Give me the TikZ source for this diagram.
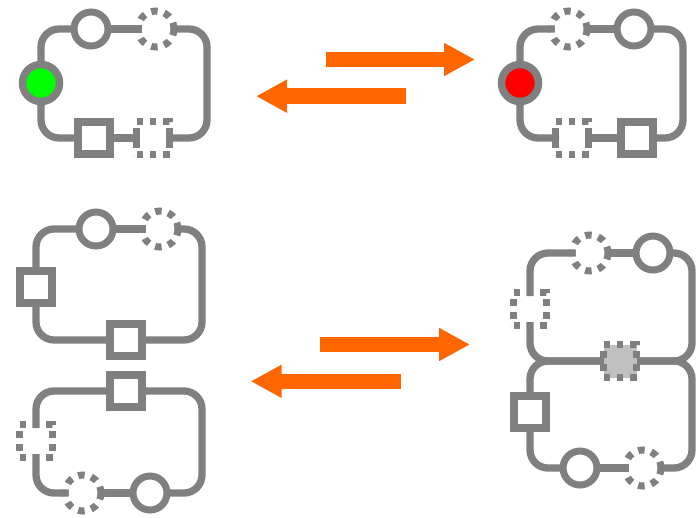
\documentclass[tikz,border=0pt]{standalone}
\usetikzlibrary{arrows.meta,backgrounds}
\definecolor{wiregray}{HTML}{808080}
\definecolor{flow}{HTML}{FF6600}
\definecolor{shade}{HTML}{C0C0C0}
\tikzset{
  wire/.style={draw=wiregray, line width=7.3pt, rounded corners=18pt},
  part/.style={draw=wiregray, inner sep=0pt, outer sep=-3.5pt},
  ring/.style={part, circle, line width=7pt, minimum size=34pt, fill=white},
  dring/.style={part, circle, line width=7pt, minimum size=36pt, dash pattern=on 6.5pt off 6.8pt},
  box/.style={part, rectangle, line width=8pt, minimum size=32pt, fill=white, outer sep=-4pt},
  dbox/.style={part, rectangle, line width=7pt, minimum size=33pt, dash pattern=on 6.6pt off 6.6pt},
  lamp/.style={part, circle, line width=7.5pt, minimum size=37pt, outer sep=-3.75pt},
  flowarrow/.style={color=flow, line width=15.6pt, -{Triangle[length=31pt,width=31pt]}},
}
\begin{document}
\begin{tikzpicture}[x=1pt, y=-1pt]
\useasboundingbox (0,0) rectangle (698,517);

% circuit with green lamp
\node[lamp, fill=green] (g) at (41,83) {};
\node[ring] (c1) at (91,29) {};
\node[dring] (d1) at (156,29) {};
\node[box] (s1) at (94,138) {};
\node[dbox] (d2) at (153,138) {};
\coordinate (tlR) at (207,29);

% circuit with red lamp
\node[lamp, fill=red] (r) at (520,83) {};
\node[dring] (d3) at (569,29) {};
\node[ring] (c2) at (634,29) {};
\node[box] (s2) at (637,138) {};
\node[dbox] (d4) at (572,138) {};
\coordinate (trR) at (683,29);

% two separate loops
\node[box] (s4) at (36,287) {};
\node[ring] (c3) at (96,229) {};
\node[dring] (d5) at (160,229) {};
\node[box] (s3) at (126,340) {};
\coordinate (bluR) at (202,229);

\node[box] (s5) at (126,391) {};
\node[dbox] (d7) at (36,441) {};
\node[dring] (d6) at (83,493) {};
\node[ring] (c4) at (150,493) {};
\coordinate (bllR) at (202,391);

% joined loops sharing one element
\node[dbox] (d9) at (530,309) {};
\node[dring] (d8) at (590,253) {};
\node[ring] (c5) at (653,253) {};
\node[dbox, fill=shade] (gs) at (620,361) {};
\node[box] (s6) at (530,412) {};
\node[ring] (c6) at (580,468) {};
\node[dring] (d10) at (643,468) {};
\coordinate (brT) at (692,253);
\coordinate (brM) at (692,361);

\begin{scope}[on background layer]
  \draw[wire] (g) |- (c1);
  \draw[wire] (c1) -- (d1);
  \draw[wire] (d1) -- (tlR) |- (d2);
  \draw[wire] (d2) -- (s1);
  \draw[wire] (s1) -| (g);

  \draw[wire] (r) |- (d3);
  \draw[wire] (d3) -- (c2);
  \draw[wire] (c2) -- (trR) |- (s2);
  \draw[wire] (s2) -- (d4);
  \draw[wire] (d4) -| (r);

  \draw[wire] (s4) |- (c3);
  \draw[wire] (c3) -- (d5);
  \draw[wire] (d5) -- (bluR) |- (s3);
  \draw[wire] (s3) -| (s4);

  \draw[wire] (s5) -- (bllR) |- (c4);
  \draw[wire] (c4) -- (d6);
  \draw[wire] (d6) -| (d7);
  \draw[wire] (d7) |- (s5);

  \draw[wire] (d9) |- (d8);
  \draw[wire] (d8) -- (c5);
  \draw[wire] (c5) -- (brT) |- (gs);
  \draw[wire] (gs) -| (d9);
  \draw[wire] (gs) -- (brM) |- (d10);
  \draw[wire] (d10) -- (c6);
  \draw[wire] (c6) -| (s6);
  \draw[wire] (s6) |- (gs);
\end{scope}

% reaction arrows
\coordinate (a1s) at (326,59.5);   \coordinate (a1e) at (475,59.5);
\coordinate (a2s) at (405.7,96.2); \coordinate (a2e) at (256,96.2);
\coordinate (a3s) at (320,344.5);  \coordinate (a3e) at (470,344.5);
\coordinate (a4s) at (400.7,381.3);\coordinate (a4e) at (250.7,381.3);
\draw[flowarrow] (a1s) -- (a1e);
\draw[flowarrow] (a2s) -- (a2e);
\draw[flowarrow] (a3s) -- (a3e);
\draw[flowarrow] (a4s) -- (a4e);
\end{tikzpicture}
\end{document}
